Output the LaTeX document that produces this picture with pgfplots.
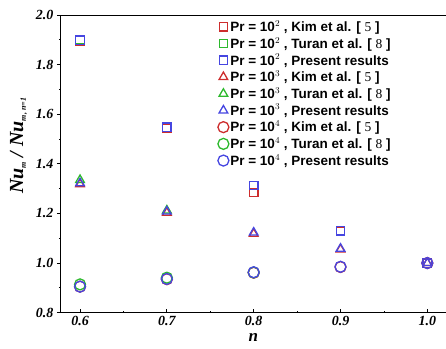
\documentclass[border=0pt]{standalone}
\usepackage{pgfplots}
\pgfplotsset{compat=1.18}
\usepackage{fontspec}
\setmainfont{Liberation Serif}
\newfontfamily\lsans{Liberation Sans}
\definecolor{cR}{RGB}{205,45,45}
\definecolor{cG}{RGB}{45,185,45}
\definecolor{cB}{RGB}{70,70,225}
\begin{document}
\begin{tikzpicture}
\begin{axis}[
  scale only axis, width=385pt, height=298pt,
  xmin=0.578, xmax=1.021, ymin=0.8, ymax=2.0,
  axis x line*=bottom, axis y line*=left,
  axis line style={line width=0.9pt, -},
  xtick={0.6,0.7,0.8,0.9,1.0},
  ytick={0.8,1.0,1.2,1.4,1.6,1.8,2.0},
  minor x tick num=1, minor y tick num=1,
  xticklabel style={font=\fontsize{14}{14}\selectfont\bfseries\itshape},
  yticklabel style={font=\fontsize{14}{14}\selectfont\bfseries\itshape},
  /pgf/number format/assume math mode=true,
  /pgf/number format/.cd, fixed, fixed zerofill, precision=1, /pgfplots/.cd,
  x tick style={line width=0.8pt, black}, y tick style={line width=0.8pt, black},
  major tick length=4pt, minor tick length=2pt,
  xtick align=inside, ytick align=outside,
  xlabel={\fontsize{17}{17}\selectfont\bfseries\itshape n},
  ylabel={\fontsize{20}{20}\selectfont\bfseries\itshape Nu\raisebox{-0.3ex}{\fontsize{8}{8}\selectfont m} / Nu\raisebox{-0.3ex}{\fontsize{8}{8}\selectfont m, n=1}},
  xlabel style={yshift=-1pt},
  ylabel style={xshift=18pt, yshift=2pt},
  legend style={draw=none, fill=none, at={(0.405,0.99)}, anchor=north west,
    font=\lsans\fontsize{13.5}{13.5}\selectfont\bfseries, row sep=1.2pt, inner sep=1pt,
    nodes={inner sep=1.5pt}},
  legend image post style={xshift=-3pt},
  legend cell align=left,
  clip=false,
]
% Pr = 10^2 squares
\addplot[only marks, mark=square, mark size=4.2pt, cR, line width=1.3pt] coordinates {(0.6,1.895) (0.7,1.543) (0.8,1.285) (0.9,1.128) (1.0,1.0)};
\addlegendentry{Pr = 10$^{2}$ , Kim et al. [ {\rmfamily\mdseries 5} ]}
\addplot[only marks, mark=square, mark size=4.2pt, cG, line width=1.3pt] coordinates {(0.6,1.900) (0.7,1.548)};
\addlegendentry{Pr = 10$^{2}$ , Turan et al. [ {\rmfamily\mdseries 8} ]}
\addplot[only marks, mark=square, mark size=4.2pt, cB, line width=1.3pt] coordinates {(0.6,1.898) (0.7,1.548) (0.8,1.313) (0.9,1.130) (1.0,1.0)};
\addlegendentry{Pr = 10$^{2}$ , Present results}
% Pr = 10^3 triangles
\addplot[only marks, mark=triangle, mark size=5pt, cR, line width=1.3pt] coordinates {(0.6,1.318) (0.7,1.203) (0.8,1.118) (0.9,1.055) (1.0,1.0)};
\addlegendentry{Pr = 10$^{3}$ , Kim et al. [ {\rmfamily\mdseries 5} ]}
\addplot[only marks, mark=triangle, mark size=5pt, cG, line width=1.3pt] coordinates {(0.6,1.335) (0.7,1.212)};
\addlegendentry{Pr = 10$^{3}$ , Turan et al. [ {\rmfamily\mdseries 8} ]}
\addplot[only marks, mark=triangle, mark size=5pt, cB, line width=1.3pt] coordinates {(0.6,1.322) (0.7,1.208) (0.8,1.123) (0.9,1.058) (1.0,1.0)};
\addlegendentry{Pr = 10$^{3}$ , Present results}
% Pr = 10^4 circles
\addplot[only marks, mark=o, mark size=5.5pt, cR, line width=1.3pt] coordinates {(0.6,0.905) (0.7,0.935) (0.8,0.961) (0.9,0.984) (1.0,1.0)};
\addlegendentry{Pr = 10$^{4}$ , Kim et al. [ {\rmfamily\mdseries 5} ]}
\addplot[only marks, mark=o, mark size=5.5pt, cG, line width=1.3pt] coordinates {(0.6,0.914) (0.7,0.941) (0.8,0.962)};
\addlegendentry{Pr = 10$^{4}$ , Turan et al. [ {\rmfamily\mdseries 8} ]}
\addplot[only marks, mark=o, mark size=5.5pt, cB, line width=1.3pt] coordinates {(0.6,0.905) (0.7,0.936) (0.8,0.963) (0.9,0.985) (1.0,1.0)};
\addlegendentry{Pr = 10$^{4}$ , Present results}
\draw[line width=0.9pt] (rel axis cs:0,1) -- (rel axis cs:1,1);
\end{axis}
\path (current axis.south west) ++(-61pt,-36pt) (current axis.north east) ++(0pt,15pt);
\end{tikzpicture}
\end{document}
